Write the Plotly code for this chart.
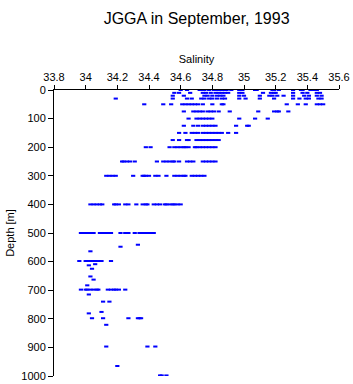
import plotly.graph_objects as go

# Salinity readings at standard depths (m)
sal_0 = [34.60, 34.64, 34.72, 34.73, 34.74, 34.75, 34.78, 34.81, 34.83, 34.85, 34.87, 34.89, 34.92,
         34.97, 34.99, 35.07, 35.08, 35.18, 35.19, 35.22, 35.31, 35.36, 35.37, 35.42, 35.44, 35.46]
sal_10 = [34.56, 34.59, 34.66, 34.74, 34.76, 34.79, 34.82, 34.84, 34.86, 34.88, 34.90, 34.97, 34.99,
          35.12, 35.17, 35.19, 35.20, 35.31, 35.37, 35.40, 35.46, 35.48]
sal_20 = [34.55, 34.62, 34.75, 34.77, 34.80, 34.83, 34.85, 34.87, 34.97, 35.00, 35.10, 35.16, 35.18,
          35.21, 35.25, 35.31, 35.38, 35.41, 35.46, 35.49]
sal_30 = [34.19, 34.55, 34.64, 34.67, 34.73, 34.75, 34.78, 34.80, 34.83, 34.86, 34.88, 34.97, 35.01,
          35.10, 35.19, 35.31, 35.35, 35.39, 35.41, 35.47, 35.49]
sal_50 = [34.37, 34.49, 34.54, 34.61, 34.63, 34.65, 34.67, 34.69, 34.71, 34.74, 34.80, 34.86, 34.87,
          35.27, 35.34, 35.39, 35.46, 35.48, 35.50]
sal_75 = [34.62, 34.68, 34.70, 34.72, 34.74, 34.77, 34.79, 34.81, 34.84, 34.91, 35.09, 35.19, 35.21,
          35.22, 35.28]
sal_100 = [34.65, 34.70, 34.72, 34.74, 34.76, 34.78, 34.80, 34.97, 35.07, 35.15]
sal_125 = [34.62, 34.68, 34.71, 34.74, 34.76, 34.78, 34.80, 34.82, 34.95, 35.02, 35.03]
sal_150 = [34.59, 34.63, 34.67, 34.69, 34.71, 34.74, 34.76, 34.78, 34.80, 34.82, 34.84, 34.86,
           34.90, 34.95]
sal_175 = [34.55, 34.59, 34.64, 34.65, 34.70, 34.72, 34.74, 34.76, 34.78, 34.80, 34.82, 34.84]
sal_200 = [34.38, 34.41, 34.53, 34.56, 34.58, 34.60, 34.62, 34.63, 34.65, 34.69, 34.70, 34.72,
           34.74, 34.76, 34.78, 34.80, 34.82]
sal_250 = [34.23, 34.24, 34.26, 34.28, 34.31, 34.45, 34.49, 34.51, 34.53, 34.55, 34.56, 34.59,
           34.64, 34.66, 34.68, 34.74, 34.76, 34.78, 34.80, 34.82]
sal_300 = [34.13, 34.15, 34.17, 34.19, 34.30, 34.36, 34.37, 34.38, 34.40, 34.44, 34.46, 34.51,
           34.56, 34.58, 34.60, 34.62, 34.63, 34.67, 34.69, 34.71, 34.73, 34.75]
sal_400 = [34.03, 34.05, 34.07, 34.09, 34.105, 34.18, 34.19, 34.21, 34.25, 34.27, 34.32, 34.36,
           34.38, 34.39, 34.43, 34.45, 34.47, 34.50, 34.51, 34.53, 34.55, 34.56, 34.58, 34.60]
sal_500 = [33.97, 33.98, 33.99, 34.01, 34.03, 34.05, 34.09, 34.10, 34.12, 34.14, 34.16, 34.22,
           34.25, 34.27, 34.31, 34.34, 34.36, 34.38, 34.39, 34.41, 34.43]

levels = [0, 10, 20, 30, 50, 75, 100, 125, 150, 175, 200, 250, 300, 400, 500]
level_sal = [sal_0, sal_10, sal_20, sal_30, sal_50, sal_75, sal_100, sal_125, sal_150,
             sal_175, sal_200, sal_250, sal_300, sal_400, sal_500]

# Deeper, scattered readings
deep_depth = [541, 548, 564,
              598, 598, 598, 598, 598, 598, 598, 598, 598, 598, 598,
              609, 613, 625, 652, 663, 683,
              698, 698, 698, 698, 698, 698, 698, 698, 698, 698, 698, 698, 698,
              715, 740, 740, 776, 781,
              798, 798, 798, 798, 798, 798,
              821, 897, 897, 897, 965, 998, 998, 998]
deep_sal = [34.33, 34.22, 34.03,
            33.96, 34.00, 34.01, 34.02, 34.03, 34.04, 34.05, 34.06, 34.08, 34.10, 34.16,
            34.06, 34.02, 34.04, 34.03, 34.05, 34.01,
            33.97, 34.00, 34.01, 34.03, 34.05, 34.07, 34.08, 34.14, 34.16, 34.18, 34.19, 34.21, 34.25,
            34.02, 34.11, 34.15, 34.10, 34.02,
            34.04, 34.11, 34.27, 34.33, 34.34, 34.35,
            34.13, 34.13, 34.39, 34.44, 34.20, 34.47, 34.48, 34.51]

x_vals, y_vals = [], []
for d, sals in zip(levels, level_sal):
    x_vals += sals
    y_vals += [d] * len(sals)
x_vals += deep_sal
y_vals += deep_depth

font = "Liberation Sans, Arial, Helvetica, sans-serif"

fig = go.Figure(go.Scatter(
    x=x_vals, y=y_vals, mode="markers",
    marker=dict(symbol="line-ew", size=3, color="#0000ff",
                line=dict(color="#0000ff", width=2)),
    hoverinfo="skip", showlegend=False,
))

fig.update_layout(
    width=353, height=384,
    margin=dict(l=54, r=14, t=90, b=8),
    paper_bgcolor="white", plot_bgcolor="white",
    font=dict(family=font, size=11, color="black"),
    title=dict(text="JGGA in September, 1993", x=0.557, xanchor="center",
               y=1 - 18 / 384, yanchor="middle", yref="container",
               font=dict(size=16, family=font, color="black")),
    xaxis=dict(side="top", range=[33.8, 35.6], dtick=0.2, tick0=33.8,
               showgrid=False, zeroline=False, showline=True, linecolor="black",
               linewidth=1, ticks="outside", ticklen=4, tickcolor="black",
               title=dict(text="Salinity", standoff=4, font=dict(size=11)),
               mirror=False, automargin=False),
    yaxis=dict(range=[1000, 0], dtick=100, tick0=0,
               showgrid=False, zeroline=False, showline=True, linecolor="black",
               linewidth=1, ticks="outside", ticklen=5, tickcolor="black",
               title=dict(text="Depth [m]", standoff=4, font=dict(size=11)),
               automargin=False),
)

fig.write_html("out.html")
